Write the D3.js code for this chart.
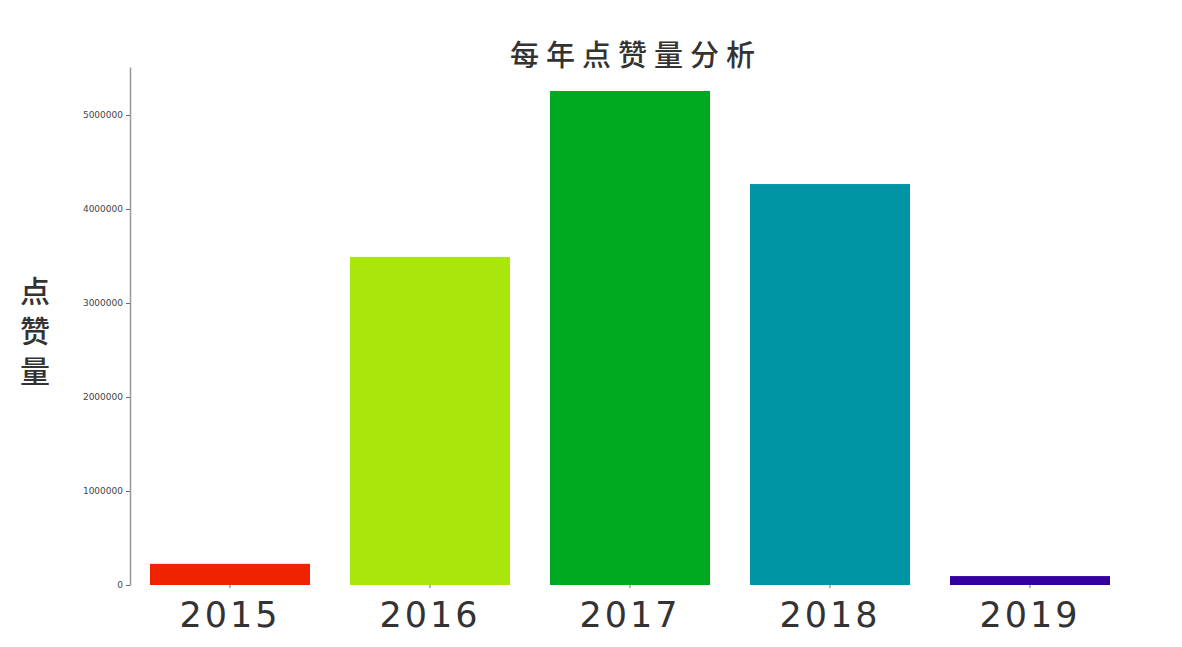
<!DOCTYPE html>
<html>
<head>
<meta charset="utf-8">
<script src="https://cdn.jsdelivr.net/npm/d3@7"></script>
<style>
  body { margin: 0; background: #fff; }
  svg { display: block; }
</style>
</head>
<body>
<div id="chart"></div>
<script>
// Likes per year
const years = ['2015', '2016', '2017', '2018', '2019'];
const likes = [225000, 3490000, 5255000, 4265000, 95000];
const barColors = ['#f02300', '#a8e60c', '#00aa20', '#0094a4', '#3400a0'];
const yTicks = [0, 1000000, 2000000, 3000000, 4000000, 5000000];

const width = 1182;
const height = 647;

const svg = d3.select('#chart')
    .append('svg')
    .attr('width', width)
    .attr('height', height);

const x = d3.scaleBand()
    .domain(years)
    .range([130, 1130])
    .paddingInner(0.2)
    .paddingOuter(0.1);

const y = d3.scaleLinear()
    .domain([0, 5510000])
    .range([585, 67]);

// bars
svg.append('g')
    .selectAll('rect')
    .data(years)
    .join('rect')
    .attr('x', d => x(d))
    .attr('width', x.bandwidth())
    .attr('y', (d, i) => y(likes[i]))
    .attr('height', (d, i) => y(0) - y(likes[i]))
    .attr('fill', (d, i) => barColors[i]);

// y axis
const yAxis = svg.append('g')
    .attr('transform', 'translate(130,0)')
    .call(d3.axisLeft(y).tickValues(yTicks).tickFormat(d3.format('d')).tickSize(4).tickSizeOuter(0));
yAxis.select('.domain').attr('stroke', '#999').attr('stroke-width', 1.5);
yAxis.selectAll('.tick line').attr('stroke', '#666');
yAxis.selectAll('.tick text')
    .attr('font-family', 'DejaVu Sans, sans-serif')
    .attr('font-size', 9)
    .attr('fill', '#444')
    .attr('x', -7);

// x axis
const xAxis = svg.append('g')
    .attr('transform', 'translate(0,585)')
    .call(d3.axisBottom(x).tickSize(3).tickSizeOuter(0));
xAxis.select('.domain').remove();
xAxis.selectAll('.tick line').attr('stroke', '#666');
xAxis.selectAll('.tick text')
    .attr('font-family', 'DejaVu Sans, sans-serif')
    .attr('font-size', 35)
    .attr('letter-spacing', 3)
    .attr('fill', '#333')
    .attr('y', 10)
    .attr('dy', '0.9em');

// title
svg.append('text')
    .attr('x', 636)
    .attr('y', 66)
    .attr('text-anchor', 'middle')
    .attr('font-family', 'Noto Sans CJK SC, sans-serif')
    .attr('font-size', 29)
    .attr('font-weight', 500)
    .attr('letter-spacing', 7)
    .attr('fill', '#333')
    .text('每年点赞量分析');

// y label, written top to bottom
svg.append('text')
    .attr('x', 35)
    .attr('y', 336)
    .attr('text-anchor', 'middle')
    .style('writing-mode', 'vertical-rl')
    .attr('font-family', 'Noto Sans CJK SC, sans-serif')
    .attr('font-size', 30)
    .attr('font-weight', 500)
    .attr('letter-spacing', 10)
    .attr('fill', '#333')
    .text('点赞量');
</script>
</body>
</html>
